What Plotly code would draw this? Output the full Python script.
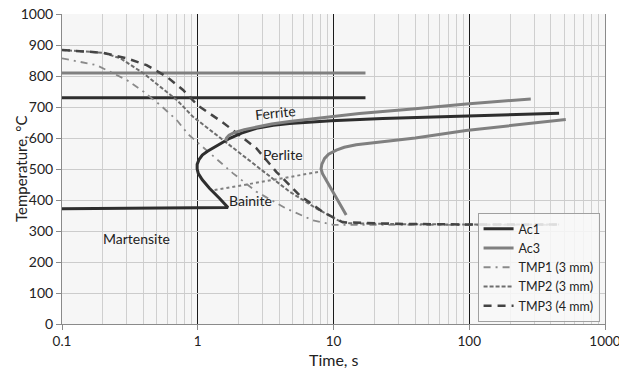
import math
import plotly.graph_objects as go

# ---- data ----
ac1_line_x = [0.1, 17.2]
ac1_line_y = [730, 730]
ac3_line_x = [0.1, 17.2]
ac3_line_y = [810, 810]

# Ac1 transformation C-curve (dark) incl. martensite line
ac1_curve_x = [0.1, 1.67, 1.45, 1.22, 1.08, 1.01, 0.99, 0.99, 1.02, 1.08, 1.18, 1.30, 1.5,
               1.72, 2.1, 2.7, 3.6, 4.74, 7.0, 9.6, 23, 95, 459]
ac1_curve_y = [372, 376, 405, 438, 465, 485, 500, 515, 530, 545, 557, 567, 584,
               599, 616, 631, 641, 647, 652, 656, 663, 672, 680]

# Ac3 ferrite curve (gray)
ac3_fer_x = [1.61, 1.63, 1.70, 1.85, 2.2, 2.7, 3.5, 4.74, 8.3, 15.5, 40, 95, 284]
ac3_fer_y = [590, 600, 609, 617, 627, 636, 645, 653, 666, 679, 694, 710, 726]

# Ac3 pearlite / bainite curve (gray)
ac3_per_x = [514, 200, 94.6, 40, 20, 14.7, 12.0, 10.5, 9.2, 8.6, 8.2, 8.1, 8.3, 9.3, 10.8, 12.4]
ac3_per_y = [660, 640, 624, 600, 586, 578, 570, 561, 548, 534, 515, 500, 485, 448, 400, 352]

# bainite start (dotted)
bain_x = [1.33, 8.1]
bain_y = [432, 492]

tmp1_x = [0.1, 0.18, 0.30, 0.40, 0.53, 0.70, 0.85, 1.37, 1.82, 2.70, 4.46, 7.0, 8.8, 9.9, 30, 100, 459]
tmp1_y = [857, 835, 787, 749, 706, 658, 612, 534, 486, 427, 373, 335, 325, 320, 320, 320, 320]

tmp2_x = [0.1, 0.2, 0.27, 0.40, 0.53, 0.70, 0.92, 1.53, 2.70, 4.74, 7.46, 11.0, 13.1, 30, 100, 459]
tmp2_y = [884, 875, 857, 808, 765, 723, 669, 594, 513, 427, 373, 333, 325, 322, 321, 321]

tmp3_x = [0.1, 0.20, 0.30, 0.42, 0.59, 0.78, 1.0, 1.53, 2.70, 3.79, 5.6, 8.3, 11.7, 30, 100, 459]
tmp3_y = [884, 875, 857, 835, 798, 755, 705, 650, 567, 491, 416, 362, 328, 323, 321, 321]

labels = ["Ferrite", "Perlite", "Bainite", "Martensite"]
label_x = [3.75, 4.22, 2.45, 0.356]
label_y = [681, 548, 400, 277]
label_rot = [-6, 0, 0, 0]

x_ticks = [0.1, 1, 10, 100, 1000]
x_tick_text = ["0.1", "1", "10", "100", "1000"]

DARK = "#2e2e2e"
GRAY = "#808080"
FONT = "Lato"

fig = go.Figure()

fig.add_trace(go.Scatter(x=ac1_line_x, y=ac1_line_y, mode="lines", name="Ac1",
                         line=dict(color=DARK, width=3)))
fig.add_trace(go.Scatter(x=ac3_line_x, y=ac3_line_y, mode="lines", name="Ac3",
                         line=dict(color=GRAY, width=3)))
fig.add_trace(go.Scatter(x=tmp1_x, y=tmp1_y, mode="lines", name="TMP1 (3 mm)",
                         line=dict(color="#8a8a8a", width=1.8, dash="7px,5px,2px,5px")))
fig.add_trace(go.Scatter(x=tmp2_x, y=tmp2_y, mode="lines", name="TMP2 (3 mm)",
                         line=dict(color="#6e6e6e", width=2, dash="4px,2px")))
fig.add_trace(go.Scatter(x=tmp3_x, y=tmp3_y, mode="lines", name="TMP3 (4 mm)",
                         line=dict(color="#444444", width=2.5, dash="8px,6px")))

fig.add_trace(go.Scatter(x=ac1_curve_x, y=ac1_curve_y, mode="lines", showlegend=False,
                         line=dict(color=DARK, width=3)))
fig.add_trace(go.Scatter(x=ac3_fer_x, y=ac3_fer_y, mode="lines", showlegend=False,
                         line=dict(color=GRAY, width=3)))
fig.add_trace(go.Scatter(x=ac3_per_x, y=ac3_per_y, mode="lines", showlegend=False,
                         line=dict(color=GRAY, width=3)))
fig.add_trace(go.Scatter(x=bain_x, y=bain_y, mode="lines", showlegend=False,
                         line=dict(color=GRAY, width=2, dash="dot")))

for t, x, y, r in zip(labels, label_x, label_y, label_rot):
    fig.add_annotation(x=math.log10(x), y=y, xref="x", yref="y", text=t, showarrow=False,
                       textangle=r, font=dict(family=FONT, size=14, color="#222"))

# axis titles placed as paper annotations (tight to tick labels as in reference)
fig.add_annotation(x=-0.0755, y=0.5, xref="paper", yref="paper", text="Temperature, °C",
                   showarrow=False, textangle=-90, xanchor="center", yanchor="middle",
                   font=dict(family=FONT, size=15, color="#222"))
fig.add_annotation(x=0.5, y=-0.113, xref="paper", yref="paper", text="Time, s",
                   showarrow=False, xanchor="center", yanchor="middle",
                   font=dict(family=FONT, size=16, color="#222"))

fig.update_layout(
    width=619, height=369,
    margin=dict(l=62, r=14, t=14, b=45),
    paper_bgcolor="white",
    plot_bgcolor="#f6f6f6",
    font=dict(family=FONT, size=14, color="#222"),
    legend=dict(x=0.99, y=0.006, xanchor="right", yanchor="bottom",
                bgcolor="rgba(248,248,248,0.85)", bordercolor="#a0a0a0", borderwidth=1,
                font=dict(family=FONT, size=12.5, color="#222"),
                itemwidth=30, tracegroupgap=0),
    xaxis=dict(type="log", range=[-1, 3], tickvals=x_ticks, ticktext=x_tick_text,
               tickfont=dict(size=13.5),
               showgrid=True, gridcolor="#1a1a1a", gridwidth=1.3,
               minor=dict(dtick="D1", showgrid=True, gridcolor="#cfcfcf", gridwidth=1),
               showline=True, linecolor="#8a8a8a", linewidth=1,
               ticks="outside", ticklen=5, tickcolor="#8a8a8a",
               zeroline=False, automargin=False, ticklabeloverflow="allow"),
    yaxis=dict(range=[0, 1000], dtick=100, showgrid=True, gridcolor="#cccccc", gridwidth=1,
               showline=True, mirror=True, linecolor="#8a8a8a", linewidth=1,
               ticks="outside", ticklen=5, tickcolor="#8a8a8a", zeroline=False,
               automargin=False, ticklabeloverflow="allow"),
)

# remove the default 8px page margin so the figure fills the 619x369 window
fig.write_html("out.html", config={"displayModeBar": False},
               post_script="document.body.style.margin='0';")
